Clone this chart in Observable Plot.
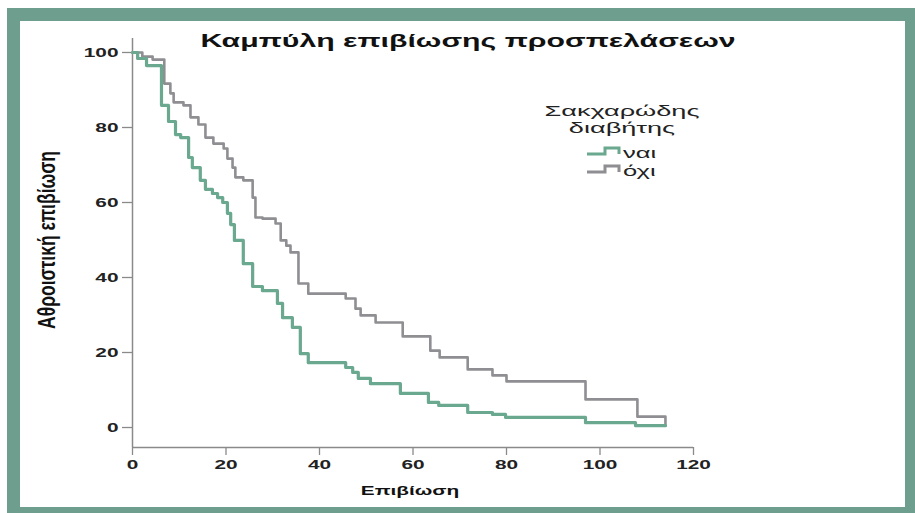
<!DOCTYPE html>
<html><head><meta charset="utf-8">
<script src="https://cdn.jsdelivr.net/npm/d3@7"></script>
<script src="https://cdn.jsdelivr.net/npm/@observablehq/plot@0.6"></script>
<style>
html,body{margin:0;padding:0;background:#fff;}
body{width:915px;height:513px;position:relative;overflow:hidden;}
#frame{position:absolute;left:7px;top:8px;width:911px;height:512px;box-sizing:border-box;border:13px solid #6e9f8e;}
#chart{position:absolute;left:0;top:0;}
#overlay{position:absolute;left:0;top:0;}
</style></head><body>
<div id="frame"></div>
<div id="chart"></div>
<svg id="overlay" width="915" height="513"></svg>
<script>
const groups = ["ναι", "όχι"];
const groupColors = ["#6aa88f", "#8e8e93"];
const timeNai = [0, 1.1, 3.0, 6.2, 7.7, 9.2, 10.3, 12.0, 12.8, 14.5, 15.6, 17.1, 18.2, 19.3, 20.3, 21.0, 21.8, 23.7, 25.7, 27.8, 31.0, 32.1, 34.2, 35.9, 37.6, 45.6, 47.1, 48.3, 50.9, 57.3, 63.3, 65.5, 71.7, 77.0, 79.8, 96.9, 107.6, 114.0];
const survNai = [100, 98.4, 96.5, 85.9, 81.6, 78.1, 77.3, 72.0, 69.3, 65.9, 63.5, 62.4, 61.3, 60.0, 57.1, 54.1, 49.9, 43.7, 37.6, 36.5, 33.1, 29.3, 26.7, 19.7, 17.3, 16.0, 14.7, 13.1, 11.7, 9.1, 6.7, 5.9, 4.0, 3.5, 2.7, 1.3, 0.5, 0.5];
const timeOxi = [0, 2.1, 4.3, 6.8, 8.1, 8.8, 10.9, 12.4, 14.1, 15.6, 17.3, 19.5, 20.3, 21.4, 22.0, 23.7, 25.7, 26.3, 27.8, 30.6, 31.7, 32.9, 33.8, 35.5, 37.6, 45.6, 47.7, 48.8, 52.0, 57.8, 63.7, 65.7, 71.7, 77.0, 80.0, 96.9, 108.0, 114.0];
const survOxi = [100, 98.9, 98.1, 91.7, 89.1, 86.7, 85.9, 82.7, 80.8, 77.3, 75.7, 74.4, 71.7, 69.3, 66.7, 65.9, 61.3, 56.0, 55.7, 54.4, 49.9, 48.5, 46.7, 38.4, 35.7, 34.4, 31.7, 29.9, 28.0, 24.3, 20.5, 18.7, 15.5, 13.9, 12.3, 7.5, 2.9, 0.5];
const xTicks = [0, 20, 40, 60, 80, 100, 120];
const yTicks = [0, 20, 40, 60, 80, 100];
const titleText = "Καμπύλη επιβίωσης προσπελάσεων";
const xLabel = "Επιβίωση";
const yLabel = "Αθροιστική επιβίωση";
const legendTitle = ["Σακχαρώδης", "διαβήτης"];

const rows = [];
timeNai.forEach((t, i) => rows.push({group: groups[0], t, s: survNai[i]}));
timeOxi.forEach((t, i) => rows.push({group: groups[1], t, s: survOxi[i]}));

const yMin = -5.33, yMax = 103.73;
const axisColor = "#8a8a8a";

const plot = Plot.plot({
  width: 915, height: 513,
  marginLeft: 132, marginRight: 222, marginTop: 38, marginBottom: 66,
  style: {background: "transparent", fontFamily: "'Liberation Sans', Arial, sans-serif", fontSize: "13px", fontWeight: "bold", color: "#222"},
  x: {domain: [0, 120]},
  y: {domain: [yMin, yMax]},
  color: {domain: groups, range: groupColors},
  marks: [
    Plot.axisY({ticks: yTicks, tickSize: 10, tickPadding: 4, label: null, stroke: axisColor, strokeWidth: 1.3, fill: "#222"}),
    Plot.axisX({ticks: xTicks, tickSize: 8, tickPadding: 4, label: null, stroke: axisColor, strokeWidth: 1.3, fill: "#222"}),
    Plot.ruleX([0], {stroke: axisColor, strokeWidth: 1.5}),
    Plot.ruleY([yMin], {stroke: axisColor, strokeWidth: 1.5}),
    Plot.line(rows.filter(d => d.group === groups[1]), {x: "t", y: "s", stroke: "group", curve: "step-after", strokeWidth: 2.6}),
    Plot.line(rows.filter(d => d.group === groups[0]), {x: "t", y: "s", stroke: "group", curve: "step-after", strokeWidth: 3.2})
  ]
});
document.getElementById("chart").appendChild(plot);
// horizontally stretched text as in the reference picture
plot.querySelectorAll("text").forEach(t => {
  const len = t.getComputedTextLength();
  if (len > 0) { t.setAttribute("textLength", len * 1.6); t.setAttribute("lengthAdjust", "spacingAndGlyphs"); }
});

const ov = d3.select("#overlay");
const F = "'Liberation Sans', Arial, sans-serif";
ov.append("text").attr("transform", "translate(468,47) scale(1.68,1)").attr("text-anchor", "middle")
  .attr("font-family", F).attr("font-weight", "bold").attr("font-size", 18).attr("fill", "#111").text(titleText);
ov.append("text").attr("transform", "translate(410,495) scale(1.6,1)").attr("text-anchor", "middle")
  .attr("font-family", F).attr("font-weight", "bold").attr("font-size", 13).attr("fill", "#111").text(xLabel);
ov.append("text").attr("transform", "translate(55,240) rotate(-90) scale(1,1.4)").attr("text-anchor", "middle")
  .attr("font-family", F).attr("font-weight", "bold").attr("font-size", 17.5).attr("fill", "#111").text(yLabel);
legendTitle.forEach((s, i) => {
  ov.append("text").attr("transform", `translate(622,${116 + i * 17}) scale(1.75,1)`).attr("text-anchor", "middle")
    .attr("font-family", F).attr("font-size", 15.5).attr("fill", "#222").text(s);
});
groups.forEach((g, i) => {
  const y0 = 154 + i * 18;
  ov.append("path").attr("d", `M587,${y0} H605 V${y0 - 6} H619 V${y0}`).attr("fill", "none")
    .attr("stroke", groupColors[i]).attr("stroke-width", 3);
  ov.append("text").attr("transform", `translate(623,${y0 + 4}) scale(1.65,1)`).attr("font-family", F)
    .attr("font-size", 15.5).attr("fill", "#222").text(g);
});
</script>
</body></html>
